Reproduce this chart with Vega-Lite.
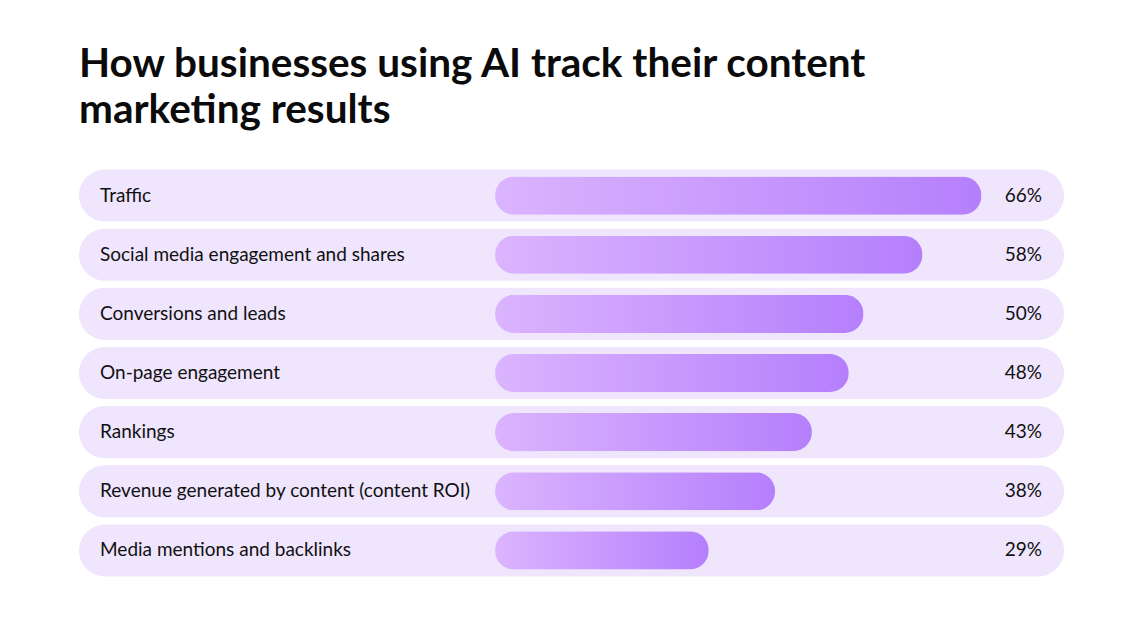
{
  "$schema": "https://vega.github.io/schema/vega-lite/v6.json",
  "width": 985,
  "height": 414,
  "autosize": {"type": "none"},
  "padding": {"left": 79, "top": 166, "right": 71, "bottom": 42},
  "background": "#ffffff",
  "title": {
    "text": ["How businesses using AI track their content", "marketing results"],
    "anchor": "start",
    "frame": "group",
    "font": "Lato",
    "fontSize": 40.5,
    "fontWeight": "bold",
    "color": "#0b0b0b",
    "lineHeight": 46,
    "offset": 35
  },
  "config": {"view": {"stroke": null}},
  "data": {
    "values": [
      {"label": "Traffic", "value": 0.66},
      {"label": "Social media engagement and shares", "value": 0.58},
      {"label": "Conversions and leads", "value": 0.50},
      {"label": "On-page engagement", "value": 0.48},
      {"label": "Rankings", "value": 0.43},
      {"label": "Revenue generated by content (content ROI)", "value": 0.38},
      {"label": "Media mentions and backlinks", "value": 0.29}
    ]
  },
  "encoding": {
    "y": {
      "field": "label",
      "type": "nominal",
      "sort": null,
      "axis": null,
      "scale": {"paddingInner": 0, "paddingOuter": 0}
    }
  },
  "layer": [
    {
      "mark": {"type": "bar", "color": "#efe5fd", "cornerRadius": 26, "height": {"band": 0.88}},
      "encoding": {
        "x": {"value": 0},
        "x2": {"value": "width"}
      }
    },
    {
      "mark": {
        "type": "bar",
        "cornerRadius": 19,
        "height": {"band": 0.645},
        "color": {
          "gradient": "linear",
          "x1": 0, "y1": 0, "x2": 1, "y2": 0,
          "stops": [
            {"offset": 0, "color": "#dbb4fe"},
            {"offset": 1, "color": "#b57ffc"}
          ]
        }
      },
      "encoding": {
        "x": {"field": "value", "type": "quantitative", "scale": {"domain": [-0.5645, 0.772], "nice": false, "zero": false}, "axis": null}
      }
    },
    {
      "mark": {"type": "text", "align": "left", "baseline": "middle", "font": "Lato", "fontSize": 19, "color": "#111111"},
      "encoding": {
        "x": {"datum": -0.536, "type": "quantitative"},
        "text": {"field": "label"}
      }
    },
    {
      "mark": {"type": "text", "align": "right", "baseline": "middle", "font": "Lato", "fontSize": 19, "color": "#111111"},
      "encoding": {
        "x": {"datum": 0.7422, "type": "quantitative"},
        "text": {"field": "value", "type": "quantitative", "format": ".0%"}
      }
    }
  ]
}
